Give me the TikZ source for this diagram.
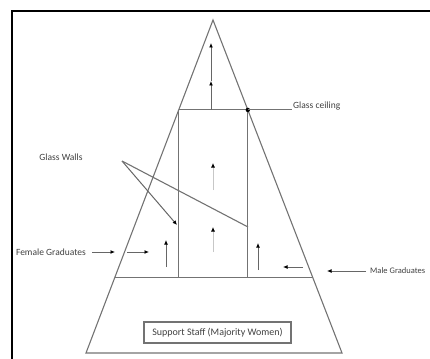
\documentclass[tikz,border=0pt]{standalone}
\usepackage{fontspec}
\setmainfont{Carlito}
\usetikzlibrary{arrows.meta,calc}

\begin{document}
\begin{tikzpicture}[x=1pt,y=-1pt,
  every node/.style={font=\fontsize{9.5}{11}\selectfont, text=black!75},
  edge/.style={draw=black!55, line width=1.1pt},
  link/.style={-{Latex[length=4.5pt,width=4pt,color=black]}, draw=black!60, line width=1pt},
  faint/.style={-{Latex[length=4.5pt,width=4pt,color=black]}, draw=black!22, line width=0.8pt},
  lbl/.style={inner sep=1pt},
  staffbox/.style={draw=black!55, line width=1.2pt, minimum width=147pt, minimum height=21pt,
                   font=\fontsize{10}{12}\selectfont},
  frame/.style={line width=2.5pt, draw=black}]

\useasboundingbox (0,0) rectangle (430,358);
\clip (0,0) rectangle (430,358);
\draw[frame] (12,360) -- (12,11) -- (432,11);

\coordinate (apex) at (213,20);
\coordinate (bl) at (86,353);
\coordinate (br) at (342,353);
\coordinate (cl) at ($(apex)!0.27!(bl)$);
\coordinate (cr) at ($(apex)!0.27!(br)$);
\coordinate (fl) at ($(apex)!0.772!(bl)$);
\coordinate (fr) at ($(apex)!0.772!(br)$);
\coordinate (wl) at (cl |- fl);
\coordinate (wr) at (cr |- fl);

\draw[edge] (apex) -- (bl) -- (br) -- cycle;
\draw[edge] (cl) -- (cr);
\draw[edge] (cl) -- (wl);
\draw[edge] (cr) -- (wr);
\draw[edge] (fl) -- (fr);
\fill (cr) circle (2.2pt);

\node[lbl, anchor=west] (ceil) at (292,106) {Glass ceiling};
\node[lbl] (walls) at (61,157) {Glass Walls};
\node[lbl, anchor=east] (fem) at (87,252) {Female Graduates};
\node[lbl, anchor=west, font=\fontsize{8.5}{10}\selectfont] (male) at (369,271) {Male Graduates};
\node[staffbox] (staff) at (217.5,332.5) {Support Staff (Majority Women)};

\draw[edge] (cr) -- (ceil.west |- cr);

\coordinate (t0) at (211,110);
\coordinate (t1) at (211,81);
\coordinate (t2) at (211,43);
\draw[link] (t0) -- (t1);
\draw[link] (t1) -- (t2);

\coordinate (i0) at (213,190);
\coordinate (i1) at (213,163);
\coordinate (i2) at (213,252);
\coordinate (i3) at (213,227);
\draw[faint] (i0) -- (i1);
\draw[faint] (i2) -- (i3);

\coordinate (wtip) at (122,161);
\coordinate (wa) at (177,225);
\coordinate (wb) at (248,227);
\draw[link] (wtip) -- (wa);
\draw[edge] (wtip) -- (wb);

\coordinate (f1) at (115,252);
\coordinate (f2) at (127,252);
\coordinate (f3) at (149,252);
\draw[link, shorten <=5pt] (fem.east) -- (f1);
\draw[link] (f2) -- (f3);

\coordinate (v0) at (166,267);
\coordinate (v1) at (166,240);
\coordinate (v2) at (258,270);
\coordinate (v3) at (258,243);
\draw[link] (v0) -- (v1);
\draw[link] (v2) -- (v3);

\coordinate (r0) at (303,267);
\coordinate (r1) at (283,267);
\coordinate (m1) at (327,271);
\draw[link] (r0) -- (r1);
\draw[link, shorten <=3pt] (male.west) -- (m1);
\end{tikzpicture}
\end{document}
